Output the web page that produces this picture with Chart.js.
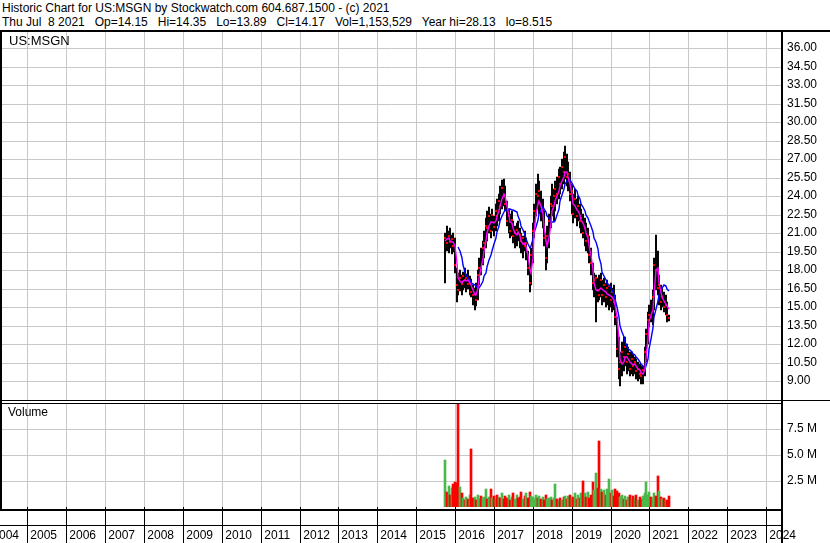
<!DOCTYPE html>
<html><head><meta charset="utf-8">
<script src="https://cdn.jsdelivr.net/npm/chart.js@4.4.1/dist/chart.umd.min.js"></script>
<style>
html,body{margin:0;padding:0;background:#fff;}
body{width:830px;height:543px;overflow:hidden;position:relative;font-family:'Liberation Sans',Arial,sans-serif;color:#000;}
.a{position:absolute;}
.t{white-space:pre;font-size:12px;line-height:14px;}
.k{background:#000;}
canvas{position:absolute;left:0;}
</style></head><body>
<div class="a t" id="h1" style="left:2px;top:1px;"></div>
<div class="a t" id="h2" style="left:2px;top:15px;"></div>
<canvas id="price" width="830" height="370" style="top:31px;"></canvas>
<canvas id="vol" width="830" height="140" style="top:403px;"></canvas>
<div class="a t" id="sym" style="left:9px;top:34px;font-size:13px;"></div>
<div class="a t" id="vlab" style="left:8px;top:405px;"></div>
<div class="a k" style="left:0;top:30px;width:830px;height:2px;"></div>
<div class="a k" style="left:0;top:31px;width:2px;height:479px;"></div>
<div class="a k" style="left:781px;top:31px;width:2px;height:512px;"></div>
<div class="a k" style="left:0;top:400px;width:830px;height:1px;"></div>
<div class="a k" style="left:0;top:403px;width:781px;height:1px;"></div>
<div class="a k" style="left:0;top:509px;width:781px;height:2px;"></div>
<div class="a k" style="left:0;top:525px;width:781px;height:1px;"></div>
<script>
// ---- text ----
const headerLine1 = "Historic Chart for US:MSGN by Stockwatch.com 604.687.1500 - (c) 2021";
const headerLine2 = "Thu Jul  8 2021   Op=14.15   Hi=14.35   Lo=13.89   Cl=14.17   Vol=1,153,529   Year hi=28.13   lo=8.515";
const symbolLabel = "US:MSGN";
const volumeLabel = "Volume";

// ---- axes ----
const yearTicks = [2004,2005,2006,2007,2008,2009,2010,2011,2012,2013,2014,2015,2016,2017,2018,2019,2020,2021,2022,2023,2024];
const priceTicks = [9,10.5,12,13.5,15,16.5,18,19.5,21,22.5,24,25.5,27,28.5,30,31.5,33,34.5,36];
const volumeTicks = [2.5,5,7.5];

// ---- series: half-monthly periods starting Oct 2015 ----
const firstPeriod = 2015.75;
const periodsPerYear = 24;
const lows = [17.0,19.6,19.4,19.8,19.3,19.5,17.8,15.4,16.0,16.3,
16.0,16.4,16.6,16.2,16.5,16.0,15.8,15.2,14.8,15.1,
15.6,16.8,17.6,18.4,19.0,19.8,20.4,21.0,20.6,21.2,
20.8,21.2,21.6,22.0,22.6,23.0,23.2,22.8,21.6,21.0,
20.6,20.8,20.2,19.8,20.0,20.4,19.8,19.4,19.0,19.6,
18.8,17.6,16.2,16.8,18.6,20.6,22.4,23.0,22.6,22.0,
21.4,20.0,18.0,18.6,19.8,21.4,22.4,22.0,22.8,23.4,
23.8,24.2,24.6,25.0,25.4,24.8,24.4,23.6,22.6,21.8,
22.2,21.6,22.0,21.4,21.0,20.6,20.0,19.6,19.4,18.6,
17.6,16.4,15.8,13.8,15.4,15.6,15.8,15.2,15.4,15.0,
15.2,14.8,15.0,14.6,14.8,13.6,11.0,9.2,8.6,9.4,
9.8,10.2,9.6,9.8,9.4,9.6,9.4,9.6,9.2,9.0,
9.2,8.8,8.8,9.4,10.6,12.0,13.4,13.8,13.6,14.8,
16.4,16.0,15.2,14.8,15.0,14.6,14.4,13.8,13.9];
const highs = [21.0,21.6,21.2,21.4,20.9,21.0,20.6,18.2,17.8,18.0,
17.6,17.9,18.2,17.7,18.0,17.5,17.3,16.8,16.6,17.0,
18.0,19.0,19.8,20.4,21.2,22.2,22.8,23.1,22.6,23.0,
22.4,23.4,23.8,24.2,24.8,25.3,25.4,24.8,23.6,23.0,
22.6,22.8,22.0,21.6,21.8,22.0,21.4,21.0,20.8,21.2,
20.6,19.6,18.4,19.8,21.8,23.4,25.0,25.8,25.2,24.4,
23.8,22.8,21.0,21.6,22.6,24.0,25.0,24.6,25.2,25.6,
26.2,26.4,27.0,27.6,28.1,27.4,26.8,26.0,25.0,24.2,
24.6,23.8,24.0,23.4,23.0,22.6,22.2,21.8,21.4,20.8,
19.8,18.6,17.8,17.6,17.4,17.6,17.8,17.2,17.4,17.0,
17.2,16.8,17.0,16.6,16.8,16.0,14.2,12.6,11.4,12.2,
12.6,12.6,12.0,11.8,11.4,11.4,11.2,11.0,10.8,10.6,
10.4,10.2,10.2,11.8,13.2,14.6,15.2,15.6,16.4,19.0,
20.9,19.6,17.6,16.8,16.6,16.2,16.0,15.4,14.4];
const closes = [20.6,20.2,20.8,20.3,20.5,20.0,18.4,16.8,16.4,17.4,
16.9,17.5,17.2,17.4,16.9,17.0,16.2,16.0,16.1,15.6,
17.6,18.2,18.0,19.8,20.2,21.6,21.4,22.4,21.2,22.5,
21.5,22.8,22.4,23.6,23.2,24.7,24.0,23.4,22.0,22.4,
21.2,22.1,20.8,21.0,21.3,21.0,20.9,20.4,20.6,20.0,
20.2,18.2,17.0,19.2,21.2,22.8,24.2,24.0,24.4,22.8,
23.0,20.6,19.0,20.8,22.0,23.4,23.2,24.0,24.6,24.2,
25.6,25.0,26.4,26.0,27.2,25.6,25.8,24.2,24.4,22.6,
23.8,22.4,23.2,22.0,22.2,21.0,21.4,20.4,20.8,19.2,
18.6,17.0,17.2,17.4,16.4,16.0,17.2,16.0,16.8,15.8,
16.6,16.7,15.6,16.2,15.4,14.2,11.6,10.0,10.6,11.4,
11.0,11.8,10.6,11.2,10.0,10.8,10.2,10.6,9.8,10.0,
9.6,9.4,9.9,11.4,12.8,14.0,14.4,14.2,15.8,18.4,
18.0,16.6,16.8,15.4,15.8,15.0,15.2,14.4,14.17];
const maShort = [20.4,20.5,20.6,20.4,20.3,20.3,20.0,18.6,17.4,17.1,
17.0,17.1,17.2,17.1,17.2,17.0,16.8,16.4,16.0,16.0,
16.6,17.4,18.2,18.9,19.6,20.4,21.0,21.6,21.9,21.9,
21.8,22.0,22.4,22.8,23.2,23.8,24.2,24.0,23.2,22.4,
21.9,21.8,21.4,21.0,20.9,21.1,20.8,20.4,20.1,20.2,
19.9,19.2,18.0,17.8,19.0,21.0,22.6,23.4,23.6,23.2,
22.6,21.6,20.4,20.0,20.6,21.8,22.8,23.2,23.6,24.0,
24.4,24.8,25.2,25.6,26.0,26.0,25.6,25.0,24.2,23.4,
23.2,22.9,22.8,22.5,22.1,21.8,21.4,21.0,20.6,20.0,
19.2,18.0,17.0,16.4,16.3,16.4,16.6,16.5,16.3,16.2,
16.1,16.0,15.9,15.8,15.6,15.2,14.2,12.4,10.8,10.4,
10.6,11.0,11.0,10.8,10.6,10.4,10.3,10.4,10.2,10.0,
9.9,9.7,9.6,10.0,11.0,12.4,13.8,14.4,14.8,16.0,
18.0,18.2,17.0,16.2,15.8,15.5,15.3,15.1,14.9];
const maLong = [null,null,null,null,null,null,null,null,19.9,19.6,
19.0,18.4,17.9,17.6,17.4,17.2,17.0,16.9,16.8,16.7,
16.6,16.6,16.8,17.1,17.5,17.8,18.3,18.8,19.2,19.6,
20.1,20.6,21.1,21.6,22.0,22.4,22.7,22.9,22.9,23.0,
23.0,22.9,22.9,22.8,22.7,22.4,22.0,21.6,21.3,20.9,
20.5,20.1,19.8,20.0,20.5,21.0,21.5,22.1,22.6,22.9,
23.1,23.0,22.7,22.4,22.2,22.0,21.9,21.9,22.0,22.5,
23.0,23.6,24.1,24.6,25.0,25.2,25.3,25.3,25.1,24.9,
24.6,24.4,24.1,23.8,23.4,23.1,22.8,22.5,22.2,22.0,
21.6,21.1,20.6,20.3,19.7,19.1,18.5,17.9,17.5,17.2,
17.0,16.8,16.6,16.4,16.1,15.7,15.0,14.2,13.5,13.0,
12.6,12.2,11.9,11.6,11.5,11.4,11.2,11.1,11.0,10.8,
10.6,10.4,10.2,10.0,10.2,10.8,11.6,12.4,13.3,14.2,
14.9,15.5,16.0,16.4,16.6,16.8,16.7,16.5,16.3];
const volumesM = [4.5,1.4,2.0,1.2,1.8,2.2,2.4,2.3,9.9,1.9,
1.3,0.9,0.7,1.0,0.8,1.2,5.6,0.9,1.0,0.7,
1.2,0.8,1.1,0.9,1.0,1.7,0.8,1.0,1.7,0.9,
1.1,0.8,1.2,1.0,0.9,1.3,0.8,1.1,0.9,1.2,
0.7,1.0,1.3,0.8,1.2,0.9,1.0,1.4,0.8,1.1,
1.3,0.9,1.4,1.1,1.0,0.8,1.2,0.9,1.1,0.8,
1.0,0.7,1.2,0.8,0.9,1.0,0.7,0.9,2.2,0.8,
0.6,0.9,0.7,1.0,1.1,0.8,1.1,1.2,0.9,1.0,
1.3,0.8,1.2,0.9,1.3,2.5,1.3,1.0,1.4,0.9,
1.2,2.4,1.6,3.3,1.8,6.3,1.7,1.4,1.6,1.2,
1.7,2.7,1.3,1.6,1.1,1.7,1.5,1.3,1.0,1.2,
0.8,1.1,0.7,1.0,1.2,0.8,1.1,0.9,1.2,0.7,
1.0,0.8,1.1,1.3,2.4,1.2,1.4,1.0,0.9,1.3,
1.1,3.0,1.5,1.0,0.8,0.9,0.6,0.7,1.1];

document.getElementById('h1').textContent = headerLine1;
document.getElementById('h2').textContent = headerLine2;
document.getElementById('sym').textContent = symbolLabel;
document.getElementById('vlab').textContent = volumeLabel;

// ---- build library data ----
const periodX = i => firstPeriod + i / periodsPerYear;
const barPts = lows.map((lo, i) => ({x: periodX(i), y: [lo, highs[i]]}));
const closePts = closes.map((c, i) => ({x: periodX(i), y: c}));
const maShortPts = maShort.map((v, i) => ({x: periodX(i), y: v}));
const maLongPts = maLong.map((v, i) => ({x: periodX(i), y: v}));
const volPts = volumesM.map((v, i) => ({x: periodX(i), y: v}));
const UP = '#4cb84c', DOWN = '#ff0000';
const volColors = closes.map((c, i) => (i === 0 || c >= closes[i - 1]) ? UP : DOWN);

const FONT = {family: "'Liberation Sans', Arial, sans-serif", size: 12};
Chart.defaults.font = FONT;
Chart.defaults.color = '#000';
const X_MIN = 2004.344, X_MAX = 2024.385;
const GRID = '#c8c8c8';
const setTicks = arr => scale => { scale.ticks = arr.map(v => ({value: v})); };
const noPad = w => s => {
  if (w !== undefined) { if (s.isHorizontal()) s.height = w; else s.width = w; }
  s.paddingLeft = 0; s.paddingRight = 0; s.paddingTop = 0; s.paddingBottom = 0;
};
const common = {
  responsive: false, animation: false, events: [],
  plugins: {legend: {display: false}, tooltip: {enabled: false}},
};

new Chart(document.getElementById('price'), {
  type: 'bar',
  data: {datasets: [
    {type: 'bar', data: barPts, backgroundColor: '#000', barThickness: 1.3, order: 3},
    {type: 'line', data: closePts, showLine: false, pointStyle: 'rect', pointRadius: 1.4, pointBorderWidth: 0, pointBackgroundColor: '#ff0000', order: 2},
    {type: 'line', data: maLongPts, borderColor: '#0000ff', borderWidth: 1.4, pointRadius: 0, tension: 0, order: 1},
    {type: 'line', data: maShortPts, borderColor: '#ff00ff', borderWidth: 1.4, pointRadius: 0, tension: 0, order: 0}
  ]},
  options: Object.assign({}, common, {
    layout: {autoPadding: false, padding: {left: 2, right: 0, top: 0, bottom: 0}},
    scales: {
      x: {type: 'linear', offset: false, min: X_MIN, max: X_MAX, alignToPixels: true,
          afterBuildTicks: setTicks(yearTicks.slice(1)),
          grid: {color: GRID, lineWidth: 1, drawTicks: false, offset: false},
          border: {display: false}, ticks: {display: false},
          afterFit: noPad(0)},
      y: {position: 'right', min: 7.4, max: 37.4, alignToPixels: true,
          afterBuildTicks: setTicks(priceTicks),
          afterFit: noPad(49),
          grid: {color: GRID, lineWidth: 1, drawTicks: false},
          border: {display: false},
          ticks: {padding: 6, color: '#000', callback: v => Number(v).toFixed(2)}}
    }
  })
});

new Chart(document.getElementById('vol'), {
  type: 'bar',
  data: {datasets: [
    {type: 'bar', data: volPts, backgroundColor: volColors, barThickness: 2}
  ]},
  options: Object.assign({}, common, {
    layout: {autoPadding: false, padding: {left: 2, right: 0, top: 0, bottom: 0}},
    scales: {
      x: {type: 'linear', offset: false, min: X_MIN, max: X_MAX, alignToPixels: true,
          afterBuildTicks: setTicks(yearTicks),
          afterFit: noPad(36),
          grid: {color: GRID, lineWidth: 1, drawTicks: true, tickLength: 36, tickColor: '#000', tickWidth: 1, offset: false},
          border: {display: false},
          ticks: {align: 'start', padding: -15, autoSkip: false, maxRotation: 0, minRotation: 0, color: '#000',
                  callback: v => ' ' + v}},
      y: {position: 'right', min: 0, max: 10, alignToPixels: true,
          afterBuildTicks: setTicks(volumeTicks),
          afterFit: noPad(49),
          grid: {color: GRID, lineWidth: 1, drawTicks: false},
          border: {display: false},
          ticks: {padding: 6, color: '#000', callback: v => Number(v).toFixed(1) + ' M'}}
    }
  })
});
</script>
</body></html>
